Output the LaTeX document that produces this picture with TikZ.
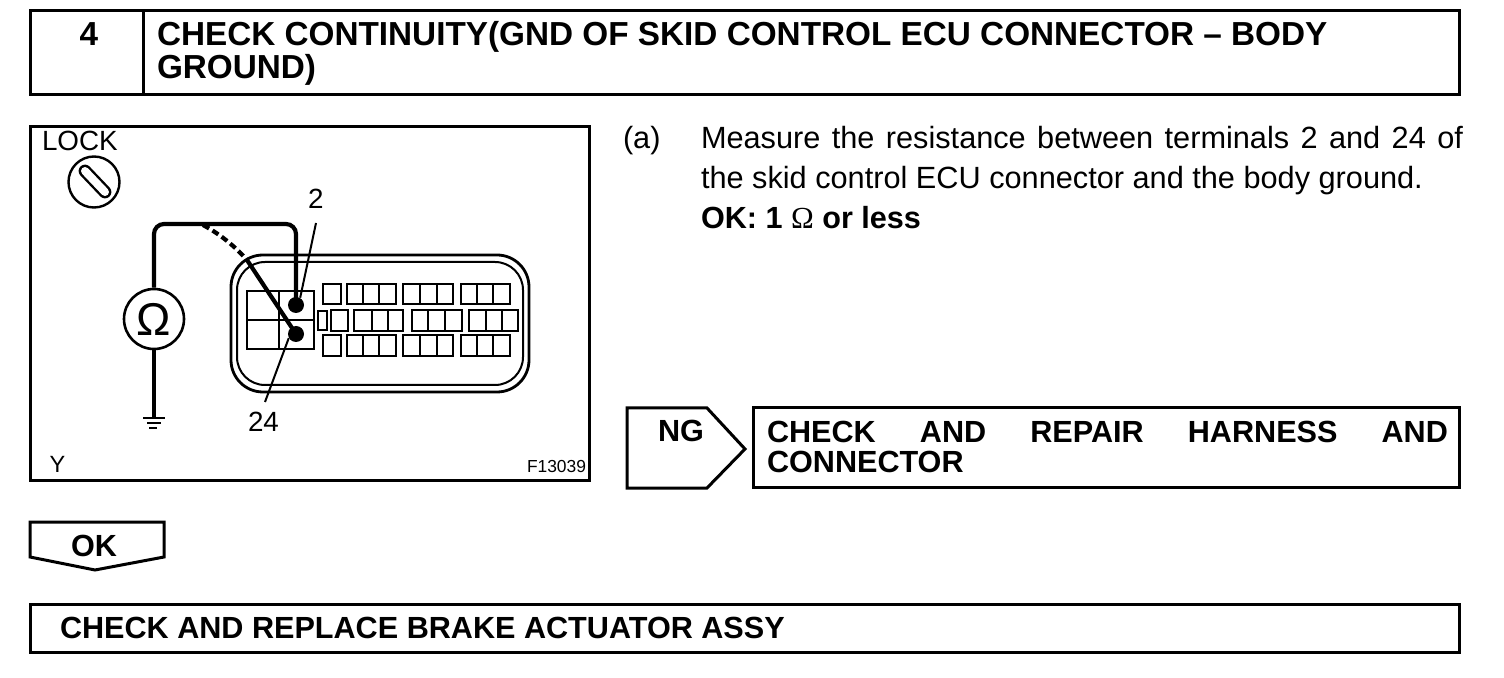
\documentclass[tikz,border=0pt]{standalone}
\usepackage{fontspec}
\setmainfont{Liberation Sans}
\newfontfamily\symfont{Liberation Serif}
\newdimen\pxu \pxu=0.5pt
\newcommand{\fs}[1]{\fontsize{#1\pxu}{#1\pxu}\selectfont}
\tikzset{
 frame/.style={draw,line width=3\pxu,inner sep=0pt,outer sep=0pt,anchor=north west},
 txt/.style={inner sep=0pt,outer sep=0pt,anchor=base west},
 head/.style={txt,font=\fs{33.3}\bfseries},
 body/.style={txt,font=\fs{30.7}},
 sub/.style={txt,font=\fs{30.6}\bfseries},
 small/.style={txt,font=\fs{27.8}},
 tiny/.style={txt,font=\fs{17.4}},
 cellbox/.style={draw,line width=2.4\pxu},
 wire/.style={line width=4.2\pxu},
 lead/.style={line width=2\pxu},
 dot/.style={circle,fill=black,inner sep=0pt,minimum size=16\pxu},
}
\begin{document}
\begin{tikzpicture}[x=\pxu,y=-\pxu]
\useasboundingbox (0,0) rectangle (1504,678);
% title
\node[frame,minimum width=1429\pxu,minimum height=84\pxu] (title) at (30,10.5) {};
\draw[line width=3\pxu] (143,10) -- (143,95);
\node[head] (num) at (79.5,46) {4};
\node[head] (t1) at (157,46) {CHECK CONTINUITY(GND OF SKID CONTROL ECU CONNECTOR – BODY};
\node[head] (t2) at (157,79) {GROUND)};
% figure frame
\node[frame,minimum width=559\pxu,minimum height=354\pxu] (fig) at (30,126.5) {};
\node[small] (lock) at (42,151) {LOCK};
\node[small,font=\fs{23.5}] (ly) at (49.5,473) {Y};
\node[tiny] (code) at (527,473) {F13039};
\node[small] (l2) at (308,209) {2};
\node[small] (l24) at (248,431) {24};
% key symbol
\node[circle,draw,line width=2.4\pxu,minimum size=51\pxu,inner sep=0pt] (key) at (94,182) {};
\draw[line width=2.4\pxu,double=white,double distance=8\pxu,line cap=round] (85,171) -- (105,192);
% connector shell
\draw[line width=2.8\pxu,rounded corners=32\pxu] (231,255) rectangle (529,392);
\draw[line width=2\pxu,rounded corners=28\pxu] (237,262) rectangle (523,385);
\draw[line width=2\pxu] (247,291) rectangle (279,349);
\draw[line width=2\pxu] (247,320) -- (279,320);
\draw[line width=2.6\pxu] (279,291) rectangle (314,349);
\draw[line width=2\pxu] (279,320) -- (314,320);
\foreach \a/\b in {323/341,347/363,363/379,379/396,403/420,420/437,437/453,461/477,477/493,493/510}{
 \draw[cellbox] (\a,284) rectangle (\b,304);
 \draw[cellbox] (\a,335) rectangle (\b,356);
}
\foreach \a/\b in {331/348,354/372,372/388,388/403,412/428,428/445,445/462,469/486,486/502,502/518}{
 \draw[cellbox] (\a,310) rectangle (\b,331);
}
\draw[cellbox] (318,311) rectangle (327,330);
% meter
\node[circle,draw,line width=2.6\pxu,fill=white,minimum size=60\pxu,inner sep=0pt,font=\fs{46}] (om) at (154,319) {Ω};
\node[dot] (d2) at (296,305) {};
\node[dot] (d24) at (296,334) {};
\coordinate (top) at (200,224);
\coordinate (gnd) at (154,418);
\coordinate (bend) at (247,260);
\coordinate (dstart) at (203,225);
\draw[wire,rounded corners=10\pxu] (om.north) -- (om.north |- top) -- (d2.center |- top) -- (d2.center);
\draw[wire] (om.south) -- (gnd);
\draw[line width=2.8\pxu] (143,418) -- (165,418);
\draw[line width=1.4\pxu] (147,423) -- (161,423);
\draw[line width=1.4\pxu] (149,428) -- (157,428);
\draw[wire,dash pattern=on 7\pxu off 4\pxu] (dstart) .. controls (216,232) and (232,243) .. (bend);
\draw[wire] (bend) -- (d24.center);
\coordinate (a2) at (316,223);
\coordinate (a24) at (265,402);
\draw[lead] (a2) -- (d2.60);
\draw[lead] (a24) -- (d24.210);
% text
\node[body] (a) at (623,149) {(a)};
\node[body] (p1) at (701,149) {\makebox[762\pxu][s]{Measure the resistance between terminals 2 and 24 of}};
\node[body] (p2) at (701,189) {the skid control ECU connector and the body ground.};
\node[sub] (p3) at (701,229) {OK: 1 {\symfont\mdseries Ω} or less};
% NG
\node[inner sep=0pt,outer sep=0pt] (ngtip) at (745,449) {};
\draw[line width=3\pxu,line join=miter] (627,408) -- (707,408) -- (ngtip.center) -- (707,488) -- (627,488) -- cycle;
\node[sub] (ng) at (658,442) {NG};
\node[frame,minimum width=706\pxu,minimum height=80\pxu] (ngbox) at (753.5,407.5) {};
\node[sub] (n1) at (767,443) {\makebox[681\pxu][s]{CHECK AND REPAIR HARNESS AND}};
\node[sub] (n2) at (767,473) {CONNECTOR};
% OK
\draw[line width=3\pxu] (30,522) -- (164,522) -- (164,557) -- (95,570) -- (30,557) -- cycle;
\node[sub] (ok) at (71,556) {OK};
\node[frame,minimum width=1429\pxu,minimum height=48\pxu] (final) at (30,604.5) {};
\node[sub] (f1) at (60,638) {CHECK AND REPLACE BRAKE ACTUATOR ASSY};
\end{tikzpicture}
\end{document}
